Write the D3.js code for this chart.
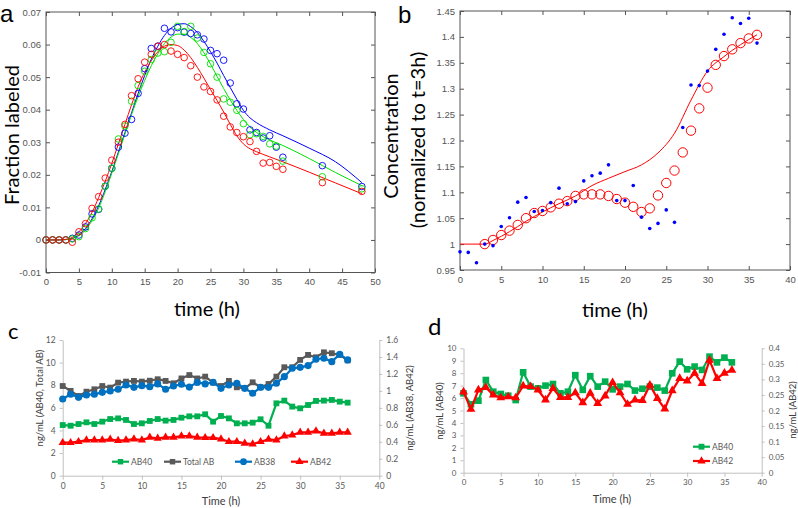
<!DOCTYPE html>
<html><head><meta charset="utf-8">
<script src="https://cdn.jsdelivr.net/npm/d3@7"></script>
<style>body{margin:0;background:#fff}svg{display:block}</style>
</head><body><svg id="chart" width="798" height="508"></svg>
<script>
// ---------- Panel a data ----------
const aPointT = [0,1,2,3,4,5,6,7,8,9,10,11,12,13,14,15,16,17,18,19,20,21,22,23,24,25,26,27,28,29,30,31,32,33,34,35,36,42,48];
const aBluePts = [0,0,0,0,0.0005,0.0015,0.004,0.008,0.0094,0.0165,0.022,0.0285,0.0328,0.037,0.045,0.0526,0.0588,0.0595,0.065,0.0639,0.0652,0.0638,0.0634,0.063,0.0617,0.0582,0.0572,0.0552,0.0482,0.0418,0.0402,0.0338,0.033,0.0313,0.032,0.0285,0.0254,0.0228,0.0164];
const aGreenPts = [0,0,0,0,0.0003,0.001,0.0035,0.0068,0.0095,0.0165,0.022,0.031,0.035,0.0426,0.0474,0.0518,0.0554,0.0574,0.0578,0.0607,0.0656,0.064,0.0656,0.062,0.0576,0.0541,0.05,0.0433,0.0423,0.0398,0.0357,0.0323,0.0326,0.0318,0.0295,0.0288,0.0242,0.0194,0.0157];
const aRedPts = [0,0,0,0,-0.0007,0.0025,0.005,0.0097,0.0133,0.019,0.0245,0.03,0.0355,0.0443,0.0495,0.0546,0.057,0.0595,0.06,0.058,0.057,0.056,0.0535,0.05,0.047,0.0456,0.043,0.038,0.0347,0.033,0.0317,0.0302,0.0272,0.0236,0.0238,0.0226,0.0217,0.0176,0.0149];
const aCurveT = [0,2,3,4,5,6,7,8,9,10,11,12,13,14,15,16,17,18,19,20,21,22,23,24,25,26,27,28,29,30,31,32,34,36,40,44,48];
const aBlueFit = [0,0,0.0001,0.0005,0.0015,0.0035,0.0065,0.0105,0.0155,0.021,0.027,0.033,0.039,0.045,0.0505,0.0555,0.0595,0.0628,0.065,0.0662,0.0664,0.0655,0.0637,0.061,0.0578,0.0543,0.0505,0.0468,0.0432,0.0398,0.0375,0.036,0.0338,0.032,0.0282,0.024,0.0176];
const aGreenFit = [0,0,0.0001,0.0004,0.0013,0.003,0.006,0.0098,0.0148,0.0205,0.0265,0.0325,0.0385,0.044,0.049,0.0535,0.0572,0.0603,0.0623,0.0632,0.0632,0.0622,0.0603,0.0575,0.054,0.0502,0.0465,0.043,0.0398,0.037,0.0347,0.033,0.0307,0.029,0.025,0.0207,0.0167];
const aRedFit = [0,0,0.0002,0.0008,0.0025,0.005,0.0085,0.013,0.018,0.0235,0.0295,0.0355,0.0415,0.047,0.0515,0.055,0.0578,0.0595,0.06,0.0597,0.0583,0.056,0.053,0.0497,0.0462,0.0428,0.0393,0.0355,0.032,0.0295,0.028,0.0271,0.0255,0.024,0.0208,0.0175,0.0142];
const aXTicks = [0,5,10,15,20,25,30,35,40,45,50];
const aYTicks = [-0.01,0,0.01,0.02,0.03,0.04,0.05,0.06,0.07];
const aYLabels = ["-0.01","0","0.01","0.02","0.03","0.04","0.05","0.06","0.07"];

// ---------- Panel b data ----------
const bDotT = d3.range(0,37);
const bDots = [0.985,0.984,0.964,1.0,0.997,1.034,1.051,1.081,1.09,1.063,1.065,1.08,1.108,1.078,1.082,1.122,1.132,1.137,1.153,1.084,1.084,1.113,1.052,1.03,1.04,1.066,1.042,1.225,1.307,1.306,1.334,1.376,1.405,1.437,1.426,1.436,1.388];
const bCircT = d3.range(3,37);
const bCircles = [1.0,1.008,1.0175,1.026,1.037,1.05,1.06,1.064,1.071,1.078,1.083,1.093,1.096,1.096,1.096,1.093,1.087,1.08,1.072,1.062,1.069,1.094,1.118,1.142,1.177,1.219,1.262,1.302,1.346,1.363,1.376,1.388,1.397,1.404];
const bLineT = [0,3,4,6,8,10,12,14,16,18,20,22,24,26,28,30,32,34,36];
const bLine = [1.0,1.0,1.007,1.024,1.044,1.062,1.078,1.093,1.113,1.127,1.14,1.153,1.176,1.214,1.278,1.334,1.362,1.385,1.404];
const bXTicks = [0,5,10,15,20,25,30,35,40];
const bYTicks = [0.95,1,1.05,1.1,1.15,1.2,1.25,1.3,1.35,1.4,1.45];

// ---------- Panel c data ----------
const cT = d3.range(0,37);
const cAB40 = [4.48,4.42,4.57,4.72,4.57,4.78,5.01,5.07,4.93,4.57,4.63,4.84,5.01,4.87,4.93,5.13,5.25,5.25,5.43,4.78,5.28,5.07,4.63,4.63,4.69,4.99,4.42,6.4,6.64,6.11,5.96,6.25,6.61,6.64,6.7,6.55,6.46];
const cTotal = [7.93,7.5,7.05,7.43,7.64,7.93,7.79,8.23,8.32,8.38,8.32,8.4,8.53,8.38,8.17,8.6,8.9,8.6,8.76,8.23,7.93,8.38,7.82,7.73,8.26,7.82,8.11,8.76,9.59,9.59,10.24,10.68,10.47,10.91,10.83,10.68,10.2];
const cAB38 = [0.904,0.96,0.924,0.952,0.96,0.983,0.999,1.019,1.07,1.042,1.062,1.05,1.082,1.019,1.058,1.078,1.045,1.1,1.082,1.101,1.03,1.07,1.09,1.03,0.972,1.042,1.042,1.09,1.168,1.267,1.278,1.298,1.373,1.385,1.345,1.432,1.365];
const cAB42 = [0.389,0.389,0.401,0.42,0.42,0.42,0.428,0.413,0.42,0.432,0.42,0.452,0.44,0.452,0.452,0.468,0.468,0.452,0.448,0.448,0.432,0.401,0.401,0.381,0.373,0.401,0.428,0.42,0.468,0.48,0.511,0.511,0.527,0.5,0.5,0.511,0.511];
const cXTicks = [0,5,10,15,20,25,30,35,40];
const cYLTicks = [0,2,4,6,8,10,12];
const cYRTicks = [0,0.2,0.4,0.6,0.8,1,1.2,1.4,1.6];

// ---------- Panel d data ----------
const dT = d3.range(0,37);
const dAB40 = [6.38,5.5,5.79,7.45,6.51,6.33,6.19,5.84,8.07,6.92,6.78,7.0,7.13,6.38,6.51,7.84,6.66,7.76,6.92,7.32,6.7,6.92,7.13,6.6,6.75,6.92,6.84,6.6,7.99,8.93,8.31,8.53,8.26,9.33,8.87,9.25,8.87];
const dAB42 = [0.26,0.204,0.266,0.274,0.25,0.241,0.244,0.241,0.279,0.277,0.266,0.234,0.271,0.242,0.242,0.257,0.225,0.256,0.223,0.247,0.29,0.257,0.22,0.234,0.232,0.282,0.239,0.205,0.264,0.303,0.295,0.32,0.287,0.362,0.303,0.32,0.33];
const dXTicks = [0,5,10,15,20,25,30,35,40];
const dYLTicks = [0,1,2,3,4,5,6,7,8,9,10];
const dYRTicks = [0,0.05,0.1,0.15,0.2,0.25,0.3,0.35,0.4];

const svg = d3.select("#chart");
const TITLE_FONT = "Lato, 'Open Sans', sans-serif";
const TICK_FONT = "'Liberation Sans', Arial, sans-serif";

function rotLabel(x, y, text, size, color, family){
  svg.append("text").attr("transform",`translate(${x},${y}) rotate(-90)`)
    .attr("text-anchor","middle").attr("dy","0.35em")
    .attr("font-family",family||TITLE_FONT).attr("font-size",size).attr("fill",color||"#000").text(text);
}
function label(x, y, text, size, color, anchor, family){
  svg.append("text").attr("x",x).attr("y",y).attr("text-anchor",anchor||"middle")
    .attr("font-family",family||TITLE_FONT).attr("font-size",size).attr("fill",color||"#000").text(text);
}

// MATLAB-style boxed axes
function boxAxes(x, y, xTicks, yTicks, yFmt){
  const [x0,x1] = x.range(), [y0,y1] = y.range();
  const col = "#555";
  const gb = svg.append("g").attr("transform",`translate(0,${y0})`)
    .call(d3.axisBottom(x).tickValues(xTicks).tickSizeInner(-4).tickSizeOuter(0).tickPadding(6));
  const gt = svg.append("g").attr("transform",`translate(0,${y1})`)
    .call(d3.axisTop(x).tickValues(xTicks).tickSizeInner(-4).tickSizeOuter(0).tickFormat(""));
  const gl = svg.append("g").attr("transform",`translate(${x0},0)`)
    .call(d3.axisLeft(y).tickValues(yTicks).tickSizeInner(-4).tickSizeOuter(0).tickPadding(5).tickFormat(yFmt));
  const gr = svg.append("g").attr("transform",`translate(${x1},0)`)
    .call(d3.axisRight(y).tickValues(yTicks).tickSizeInner(-4).tickSizeOuter(0).tickFormat(""));
  [gb,gt,gl,gr].forEach(g=>{
    g.select(".domain").remove();
    g.selectAll("line").attr("stroke",col);
    g.selectAll("text").attr("fill","#555").attr("font-family",TICK_FONT).attr("font-size",9.5);
  });
  svg.append("rect").attr("x",x0).attr("y",y1).attr("width",x1-x0).attr("height",y0-y1)
    .attr("fill","none").attr("stroke",col).attr("stroke-width",1);
}

// ================= Panel a =================
const xa = d3.scaleLinear([0,50],[46,375]);
const ya = d3.scaleLinear([-0.01,0.07],[272.5,12]);
boxAxes(xa, ya, aXTicks, aYTicks, (d,i)=>aYLabels[i]);
const aSeries = [
  {pts:aBluePts, fit:aBlueFit, color:"#0000ff"},
  {pts:aGreenPts, fit:aGreenFit, color:"#00e000"},
  {pts:aRedPts, fit:aRedFit, color:"#ff0000"}
];
const lineA = d3.line().x(d=>xa(d[0])).y(d=>ya(d[1])).curve(d3.curveMonotoneX);
aSeries.forEach(s=>{
  svg.append("path").attr("d",lineA(aCurveT.map((t,i)=>[t,s.fit[i]])))
    .attr("fill","none").attr("stroke",s.color).attr("stroke-width",1);
});
aSeries.forEach(s=>{
  svg.append("g").selectAll("circle").data(aPointT.map((t,i)=>[t,s.pts[i]])).join("circle")
    .attr("cx",d=>xa(d[0])).attr("cy",d=>ya(d[1])).attr("r",3.3)
    .attr("fill","none").attr("stroke",s.color).attr("stroke-width",0.9);
});
label(0,22,"a",24,"#000","start",TICK_FONT);
rotLabel(12,135,"Fraction labeled",20);
label(207,316,"time (h)",20);

// ================= Panel b =================
const xb = d3.scaleLinear([0,40],[460,790]);
const yb = d3.scaleLinear([0.95,1.45],[270,11]);
boxAxes(xb, yb, bXTicks, bYTicks, d3.format(""));
const lineB = d3.line().x(d=>xb(d[0])).y(d=>yb(d[1])).curve(d3.curveMonotoneX);
svg.append("path").attr("d",lineB(bLineT.map((t,i)=>[t,bLine[i]])))
  .attr("fill","none").attr("stroke","#ff0000").attr("stroke-width",1);
svg.append("g").selectAll("circle").data(bCircT.map((t,i)=>[t,bCircles[i]])).join("circle")
  .attr("cx",d=>xb(d[0])).attr("cy",d=>yb(d[1])).attr("r",4.7)
  .attr("fill","none").attr("stroke","#ff0000").attr("stroke-width",1);
svg.append("g").selectAll("circle").data(bDotT.map((t,i)=>[t,bDots[i]])).join("circle")
  .attr("cx",d=>xb(d[0])).attr("cy",d=>yb(d[1])).attr("r",1.8).attr("fill","#0000ff");
label(398,23,"b",24,"#000","start",TICK_FONT);
rotLabel(391,136,"Concentration",20);
rotLabel(418,140,"(normalized to t=3h)",20);
label(615,317,"time (h)",20);

// Excel-style axes
function excelAxes(x, yL, yR, xTicks, yLTicks, yRTicks, fs){
  const [x0,x1] = x.range(), y0 = yL.range()[0];
  const ax = "#c0c0c0", tc = "#595959";
  const gb = svg.append("g").attr("transform",`translate(0,${y0})`)
    .call(d3.axisBottom(x).tickValues(xTicks).tickSizeInner(4).tickSizeOuter(0).tickPadding(3));
  const gl = svg.append("g").attr("transform",`translate(${x0},0)`)
    .call(d3.axisLeft(yL).tickValues(yLTicks).tickSizeInner(3).tickSizeOuter(0).tickPadding(4).tickFormat(d3.format("")));
  const gr = svg.append("g").attr("transform",`translate(${x1},0)`)
    .call(d3.axisRight(yR).tickValues(yRTicks).tickSizeInner(3).tickSizeOuter(0).tickPadding(4).tickFormat(d3.format("")));
  [gb,gl,gr].forEach(g=>{
    g.select(".domain").attr("stroke",ax);
    g.selectAll("line").attr("stroke",ax);
    g.selectAll("text").attr("fill",tc).attr("font-family",TITLE_FONT).attr("font-size",fs);
  });
}
function markers(g, data, shape, size, color){
  g.append("g").selectAll("path").data(data).join("path")
    .attr("transform",d=>`translate(${d[0]},${d[1]})`)
    .attr("d",d3.symbol().type(shape).size(size)()).attr("fill",color);
}
function legendItem(x, y, shape, size, color, text){
  svg.append("line").attr("x1",x).attr("x2",x+17).attr("y1",y).attr("y2",y)
    .attr("stroke",color).attr("stroke-width",2.2);
  svg.append("path").attr("transform",`translate(${x+8.5},${y})`)
    .attr("d",d3.symbol().type(shape).size(size)()).attr("fill",color);
  label(x+19,y+3,text,8.5,"#595959","start");
}

// ================= Panel c =================
const xc = d3.scaleLinear([0,40],[62.7,379.3]);
const ycL = d3.scaleLinear([0,12],[475.7,340]);
const ycR = d3.scaleLinear([0,1.6],[475.7,340]);
excelAxes(xc, ycL, ycR, cXTicks, cYLTicks, cYRTicks, 8.5);
const cSeries = [
  {vals:cAB40, y:ycL, color:"#00b050", shape:d3.symbolSquare, size:34},
  {vals:cTotal, y:ycL, color:"#595959", shape:d3.symbolSquare, size:34},
  {vals:cAB38, y:ycR, color:"#0070c0", shape:d3.symbolCircle, size:40},
  {vals:cAB42, y:ycR, color:"#ff0000", shape:d3.symbolTriangle, size:30}
];
cSeries.forEach(s=>{
  const pts = cT.map((t,i)=>[xc(t), s.y(s.vals[i])]);
  svg.append("path").attr("d",d3.line()(pts)).attr("fill","none").attr("stroke",s.color).attr("stroke-width",2.2);
  markers(svg, pts, s.shape, s.size, s.color);
});
legendItem(112,461.7,d3.symbolSquare,30,"#00b050","AB40");
legendItem(164,461.7,d3.symbolSquare,30,"#595959","Total AB");
legendItem(235,461.7,d3.symbolCircle,36,"#0070c0","AB38");
legendItem(291,461.7,d3.symbolTriangle,28,"#ff0000","AB42");
label(8,339,"c",22,"#000","start");
rotLabel(40,398,"ng/mL (AB40, Total AB)",9.5,"#404040");
rotLabel(410,408,"ng/mL (AB38, AB42)",9.5,"#404040");
label(221,505,"Time (h)",11,"#404040");

// ================= Panel d =================
const xd = d3.scaleLinear([0,40],[463.5,761.7]);
const ydL = d3.scaleLinear([0,10],[472.7,348.3]);
const ydR = d3.scaleLinear([0,0.4],[472.7,348.3]);
excelAxes(xd, ydL, ydR, dXTicks, dYLTicks, dYRTicks, 8);
const dSeries = [
  {vals:dAB40, y:ydL, color:"#00b050", shape:d3.symbolSquare, size:44},
  {vals:dAB42, y:ydR, color:"#ff0000", shape:d3.symbolTriangle, size:34}
];
dSeries.forEach(s=>{
  const pts = dT.map((t,i)=>[xd(t), s.y(s.vals[i])]);
  svg.append("path").attr("d",d3.line()(pts)).attr("fill","none").attr("stroke",s.color).attr("stroke-width",2.2);
  markers(svg, pts, s.shape, s.size, s.color);
});
legendItem(693,446.7,d3.symbolSquare,34,"#00b050","AB40");
legendItem(693,461,d3.symbolTriangle,30,"#ff0000","AB42");
label(428,335,"d",24,"#000","start");
rotLabel(440,411,"ng/mL (AB40)",9.5,"#404040");
rotLabel(793,410,"ng/mL (AB42)",9.5,"#404040");
label(612,503,"Time (h)",11,"#404040");
</script></body></html>
